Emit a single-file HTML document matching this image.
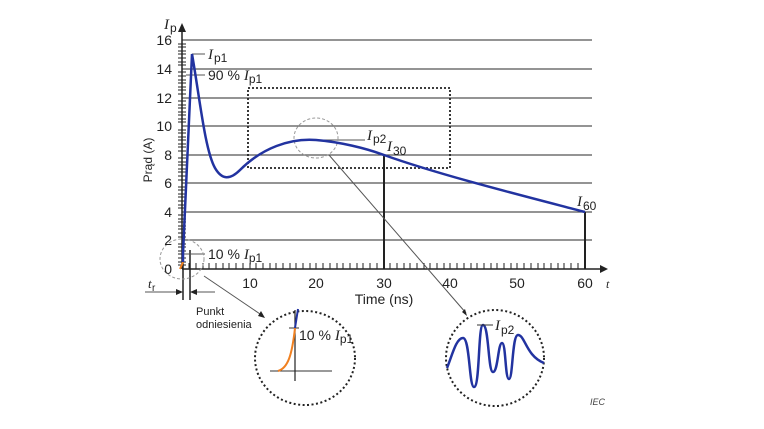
<!DOCTYPE html>
<html><head><meta charset="utf-8"><style>
html,body{margin:0;padding:0;background:#fff;}
svg{display:block;font-family:"Liberation Sans",sans-serif;}
.it{font-family:"Liberation Serif",serif;font-style:italic;}
</style></head><body>
<svg width="764" height="429" viewBox="0 0 764 429">
<rect x="0" y="0" width="764" height="429" fill="#fff"/>
<g stroke="#555" stroke-width="1.2">
<line x1="182" y1="40" x2="592" y2="40"/>
<line x1="182" y1="69" x2="592" y2="69"/>
<line x1="182" y1="98" x2="592" y2="98"/>
<line x1="182" y1="126" x2="592" y2="126"/>
<line x1="182" y1="155" x2="592" y2="155"/>
<line x1="182" y1="183" x2="592" y2="183"/>
<line x1="182" y1="212" x2="592" y2="212"/>
<line x1="182" y1="240" x2="592" y2="240"/>
</g>
<rect x="248" y="88" width="202" height="80" fill="none" stroke="#222" stroke-width="1.8" stroke-dasharray="2,2"/>
<g stroke="#222" stroke-width="1.5">
<line x1="182" y1="269" x2="600" y2="269"/>
<line x1="182" y1="269" x2="182" y2="30"/>
<line x1="384" y1="155" x2="384" y2="269" stroke-width="2"/>
<line x1="585" y1="212" x2="585" y2="269" stroke-width="2"/>
<line x1="183" y1="250" x2="183" y2="300"/>
<line x1="190" y1="250" x2="190" y2="300"/>
</g>
<polygon points="600,265 608,269 600,273" fill="#222"/>
<polygon points="178,32 182,23 186,32" fill="#222"/>
<g stroke="#222" stroke-width="1">
<path d="M189,269v-6M196,269v-6M203,269v-6M209,269v-6M216,269v-6M223,269v-6M229,269v-6M236,269v-6M243,269v-6M250,269v-6M256,269v-6M263,269v-6M270,269v-6M276,269v-6M283,269v-6M290,269v-6M296,269v-6M303,269v-6M310,269v-6M316,269v-6M323,269v-6M330,269v-6M337,269v-6M343,269v-6M350,269v-6M357,269v-6M363,269v-6M370,269v-6M377,269v-6M390,269v-6M397,269v-6M404,269v-6M410,269v-6M417,269v-6M424,269v-6M430,269v-6M437,269v-6M444,269v-6M450,269v-6M457,269v-6M464,269v-6M471,269v-6M477,269v-6M484,269v-6M491,269v-6M497,269v-6M504,269v-6M511,269v-6M517,269v-6M524,269v-6M531,269v-6M538,269v-6M544,269v-6M551,269v-6M558,269v-6M564,269v-6M571,269v-6M578,269v-6"/>
<path d="M178,44h8M178,47h8M178,51h8M178,54h8M178,58h8M178,62h8M178,65h8M178,72h8M178,76h8M178,80h8M178,83h8M178,87h8M178,90h8M178,94h8M178,101h8M178,105h8M178,108h8M178,112h8M178,115h8M178,119h8M178,122h8M178,130h8M178,133h8M178,137h8M178,140h8M178,144h8M178,147h8M178,151h8M178,158h8M178,162h8M178,165h8M178,169h8M178,172h8M178,176h8M178,180h8M178,187h8M178,190h8M178,194h8M178,197h8M178,201h8M178,205h8M178,208h8M178,215h8M178,219h8M178,222h8M178,226h8M178,229h8M178,233h8M178,237h8M178,244h8M178,247h8M178,251h8M178,254h8M178,258h8M178,262h8M178,265h8"/>
</g>
<g stroke="#555" stroke-width="1">
<line x1="192" y1="54" x2="205" y2="54"/>
<line x1="186" y1="75" x2="205" y2="75"/>
<line x1="183" y1="254" x2="205" y2="254"/>
<line x1="316" y1="140" x2="365" y2="140"/>
<line x1="329" y1="155" x2="466" y2="313"/>
<line x1="204" y1="276" x2="263" y2="316"/>
<line x1="145" y1="292" x2="176" y2="292"/>
<line x1="196" y1="292" x2="215" y2="292"/>
</g>
<polygon points="176,289 183,292 176,295" fill="#222"/>
<polygon points="197,289 190,292 197,295" fill="#222"/>
<polygon points="462,312 467,316 465,309" fill="#222"/>
<polygon points="258,316 265,318 261,311" fill="#222"/>
<ellipse cx="182" cy="259" rx="22" ry="20" fill="none" stroke="#999" stroke-width="1" stroke-dasharray="3,2"/>
<ellipse cx="316" cy="138" rx="22" ry="20" fill="none" stroke="#999" stroke-width="1" stroke-dasharray="3,2"/>
<path d="M180,269 L183,262" stroke="#f08020" stroke-width="2" fill="none"/>
<path d="M183,262 L183,254 L192,54 C200,100 205,150 215,168 C222,180 230,180 240,170 C262,148 290,138 316,140 C340,142 365,148 384,155 C440,175 520,195 585,212" stroke="#2233a0" stroke-width="2.5" fill="none"/>
<g font-size="14" fill="#222" text-anchor="end">
<text x="172" y="45">16</text><text x="172" y="74">14</text><text x="172" y="103">12</text><text x="172" y="131">10</text>
<text x="172" y="160">8</text><text x="172" y="188">6</text><text x="172" y="217">4</text><text x="172" y="245">2</text><text x="172" y="274">0</text>
</g>
<g font-size="14" fill="#222" text-anchor="middle">
<text x="250" y="288">10</text><text x="316" y="288">20</text><text x="384" y="288">30</text><text x="450" y="288">40</text><text x="517" y="288">50</text><text x="585" y="288">60</text>
<text x="384" y="304">Time  (ns)</text>
</g>
<text x="606" y="288" class="it" font-size="12" fill="#222">t</text>
<text transform="translate(152,160) rotate(-90)" font-size="12" fill="#222" text-anchor="middle">Prąd (A)</text>
<text x="164" y="29" class="it" font-size="15" fill="#222">I</text><text x="170" y="32" font-size="12" fill="#222">p</text>
<text x="208" y="59" class="it" font-size="15" fill="#222">I</text><text x="214" y="62" font-size="12" fill="#222">p1</text>
<text x="208" y="80" font-size="14" fill="#222">90 % <tspan class="it" font-size="15">I</tspan><tspan font-size="12" dy="3">p1</tspan></text>
<text x="208" y="259" font-size="14" fill="#222">10 % <tspan class="it" font-size="15">I</tspan><tspan font-size="12" dy="3">p1</tspan></text>
<text x="367" y="140" class="it" font-size="15" fill="#222">I</text><text x="373" y="143" font-size="12" fill="#222">p2</text>
<text x="387" y="151" class="it" font-size="15" fill="#222">I</text><text x="393" y="155" font-size="12" fill="#222">30</text>
<text x="577" y="206" class="it" font-size="15" fill="#222">I</text><text x="583" y="210" font-size="12" fill="#222">60</text>
<text x="148" y="288" class="it" font-size="13" fill="#222">t</text><text x="152" y="291" font-size="10" fill="#222">r</text>
<text x="196" y="315" font-size="11" fill="#222">Punkt</text>
<text x="196" y="328" font-size="11" fill="#222">odniesienia</text>
<text x="590" y="405" font-size="9" font-style="italic" fill="#444">IEC</text>
<ellipse cx="305" cy="358" rx="50" ry="47" fill="none" stroke="#222" stroke-width="2" stroke-dasharray="2,2.5"/>
<line x1="270" y1="371" x2="332" y2="371" stroke="#333" stroke-width="1"/>
<line x1="295" y1="310" x2="295" y2="381" stroke="#222" stroke-width="1.2"/>
<line x1="289" y1="328" x2="299" y2="328" stroke="#333" stroke-width="1"/>
<path d="M278,371 C288,368 292,355 295,328" stroke="#f08020" stroke-width="2" fill="none"/>
<path d="M295,328 L298,309" stroke="#2233a0" stroke-width="2" fill="none"/>
<text x="299" y="340" font-size="14" fill="#222">10 % <tspan class="it" font-size="15">I</tspan><tspan font-size="12" dy="3">p1</tspan></text>
<ellipse cx="495" cy="358" rx="49" ry="48" fill="none" stroke="#222" stroke-width="2" stroke-dasharray="2,2.5"/>
<path d="M447,368 C452,356 456,338 463,338 C470,338 469,387 474,387 C480,387 478,325 483,325 C489,325 488,372 493,372 C498,372 498,343 502,343 C506,343 505,379 509,379 C513,379 512,335 518,335 C525,335 526,356 544,363" stroke="#2233a0" stroke-width="2.5" fill="none"/>
<line x1="477" y1="325" x2="493" y2="325" stroke="#333" stroke-width="1"/>
<text x="495" y="330" class="it" font-size="15" fill="#222">I</text><text x="501" y="334" font-size="12" fill="#222">p2</text>
</svg>
</body></html>
